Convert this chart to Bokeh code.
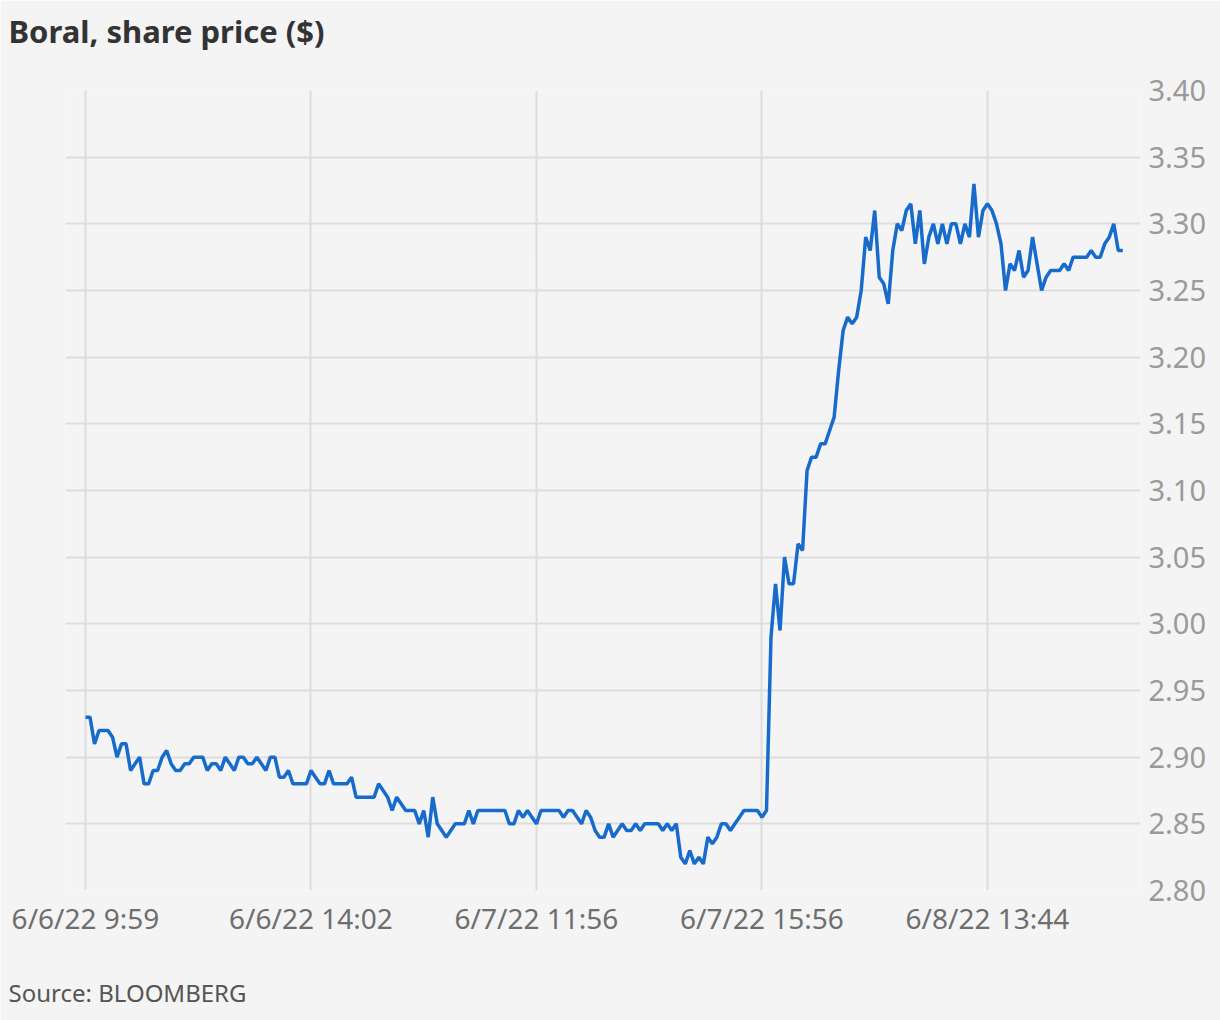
from bokeh.plotting import figure
from bokeh.models import FixedTicker, Range1d, Title
from bokeh.embed import file_html
from bokeh.resources import INLINE

# Share price, one value per sampled interval (index positions)
price = [
    2.93, 2.93, 2.91, 2.92, 2.92, 2.92, 2.915, 2.90, 2.91, 2.91,
    2.89, 2.895, 2.90, 2.88, 2.88, 2.89, 2.89, 2.90, 2.905, 2.895,
    2.89, 2.89, 2.895, 2.895, 2.90, 2.90, 2.90, 2.89, 2.895, 2.895,
    2.89, 2.90, 2.895, 2.89, 2.90, 2.90, 2.895, 2.895, 2.90, 2.895,
    2.89, 2.90, 2.90, 2.885, 2.885, 2.89, 2.88, 2.88, 2.88, 2.88,
    2.89, 2.885, 2.88, 2.88, 2.89, 2.88, 2.88, 2.88, 2.88, 2.885,
    2.87, 2.87, 2.87, 2.87, 2.87, 2.88, 2.875, 2.87, 2.86, 2.87,
    2.865, 2.86, 2.86, 2.86, 2.85, 2.86, 2.84, 2.87, 2.85, 2.845,
    2.84, 2.845, 2.85, 2.85, 2.85, 2.86, 2.85, 2.86, 2.86, 2.86,
    2.86, 2.86, 2.86, 2.86, 2.85, 2.85, 2.86, 2.855, 2.86, 2.855,
    2.85, 2.86, 2.86, 2.86, 2.86, 2.86, 2.855, 2.86, 2.86, 2.855,
    2.85, 2.86, 2.855, 2.845, 2.84, 2.84, 2.85, 2.84, 2.845, 2.85,
    2.845, 2.845, 2.85, 2.845, 2.85, 2.85, 2.85, 2.85, 2.845, 2.85,
    2.845, 2.85, 2.825, 2.82, 2.83, 2.82, 2.825, 2.82, 2.84, 2.835,
    2.84, 2.85, 2.85, 2.845, 2.85, 2.855, 2.86, 2.86, 2.86, 2.86,
    2.855, 2.86, 2.99, 3.03, 2.995, 3.05, 3.03, 3.03, 3.06, 3.055,
    3.115, 3.125, 3.125, 3.135, 3.135, 3.145, 3.155, 3.19, 3.22, 3.23,
    3.225, 3.23, 3.25, 3.29, 3.28, 3.31, 3.26, 3.255, 3.24, 3.28,
    3.30, 3.295, 3.31, 3.315, 3.285, 3.31, 3.27, 3.29, 3.30, 3.285,
    3.30, 3.285, 3.30, 3.30, 3.285, 3.30, 3.29, 3.33, 3.29, 3.31,
    3.315, 3.31, 3.30, 3.285, 3.25, 3.27, 3.265, 3.28, 3.26, 3.265,
    3.29, 3.27, 3.25, 3.26, 3.265, 3.265, 3.265, 3.27, 3.265, 3.275,
    3.275, 3.275, 3.275, 3.28, 3.275, 3.275, 3.285, 3.29, 3.30, 3.28,
    3.28,
]
index = list(range(len(price)))

x_tick_positions = [0, 50, 100, 150, 200]
x_tick_labels = ["6/6/22 9:59", "6/6/22 14:02", "6/7/22 11:56", "6/7/22 15:56", "6/8/22 13:44"]
y_ticks = [2.80, 2.85, 2.90, 2.95, 3.00, 3.05, 3.10, 3.15, 3.20, 3.25, 3.30, 3.35, 3.40]
y_tick_labels = ["2.80", "2.85", "2.90", "2.95", "3.00", "3.05", "3.10", "3.15", "3.20", "3.25", "3.30", "3.35", "3.40"]

title_text = "Boral, share price ($)"
source_text = "Source: BLOOMBERG"

BG = "#f4f4f4"
FONT = "Noto Sans"

p = figure(
    width=1220, height=1020,
    x_range=Range1d(-4.43, 233.93), y_range=Range1d(2.80, 3.40),
    y_axis_location="right",
    output_backend="svg", toolbar_location=None,
    min_border_left=65, min_border_right=80, min_border_top=89, min_border_bottom=129,
    background_fill_color=BG, border_fill_color=BG, outline_line_color=None,
)

# spacer between frame and title
p.add_layout(Title(text=" ", text_font_size="1px", standoff=28, text_color=BG), "above")

p.title.text = title_text
p.title.text_font = FONT
p.title.text_font_size = "31px"
p.title.text_font_style = "bold"
p.title.text_color = "#333333"
p.title.align = "left"
p.title.offset = -57
p.title.standoff = 15

# spacer between x axis and source line
p.add_layout(Title(text=" ", text_font_size="1px", standoff=19, text_color=BG), "below")
p.add_layout(Title(text=source_text, align="left", offset=-57, standoff=24,
                   text_font=FONT, text_font_size="24px", text_font_style="normal",
                   text_color="#555555"), "below")

p.line(index, price, line_width=3.5, line_color="#176bcb")

# x axis
p.xaxis.ticker = FixedTicker(ticks=x_tick_positions)
p.xaxis.major_label_overrides = dict(zip(x_tick_positions, x_tick_labels))
p.xaxis.major_label_text_font = FONT
p.xaxis.major_label_text_font_size = "28px"
p.xaxis.major_label_text_color = "#6e6e6e"
p.xaxis.major_label_standoff = 2
p.xaxis.axis_line_color = None
p.xaxis.major_tick_line_color = None
p.xaxis.minor_tick_line_color = None

# y axis
p.yaxis.ticker = FixedTicker(ticks=y_ticks)
p.yaxis.major_label_overrides = dict(zip(y_ticks, y_tick_labels))
p.yaxis.major_label_text_font = FONT
p.yaxis.major_label_text_font_size = "29px"
p.yaxis.major_label_text_color = "#9a9a9a"
p.yaxis.major_label_standoff = 2
p.yaxis.axis_line_color = None
p.yaxis.major_tick_line_color = None
p.yaxis.minor_tick_line_color = None

p.xgrid.ticker = FixedTicker(ticks=x_tick_positions)
p.ygrid.ticker = FixedTicker(ticks=y_ticks)
p.grid.grid_line_color = "#dddddd"
p.grid.grid_line_width = 2

open("out.html", "w").write(file_html(p, INLINE))
